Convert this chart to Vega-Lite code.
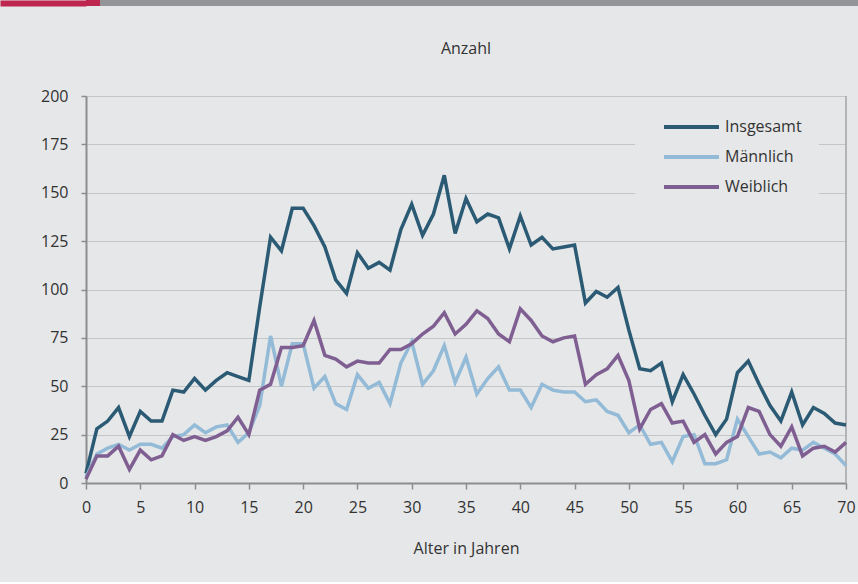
{
  "$schema": "https://vega.github.io/schema/vega-lite/v6.json",
  "background": "#e6e7e8",
  "padding": {"left": 0, "top": 0, "right": 0, "bottom": 26},
  "spacing": 35,
  "config": {
    "view": {"stroke": null},
    "font": "Open Sans",
    "concat": {"spacing": 0}
  },
  "vconcat": [
    {
      "spacing": 0,
      "bounds": "flush",
      "hconcat": [
        {"width": 14, "height": 6, "data": {"values": [{}]}, "mark": {"type": "rect", "color": "#be2650"},
         "encoding": {
           "x": {"value": 0}, "x2": {"value": "width"},
           "y": {"datum": 0, "type": "quantitative", "scale": {"domain": [0, 1]},
                 "axis": {"title": null, "labels": false, "ticks": false, "grid": false, "domainColor": "#be2650", "domainWidth": 86, "domainCap": "butt", "offset": 43}},
           "y2": {"datum": 1}
         }},
        {"width": 758, "height": 6, "data": {"values": [{}]}, "mark": {"type": "rect", "color": "#939598"},
         "encoding": {"x": {"value": 0}, "x2": {"value": "width"}, "y": {"value": 0}, "y2": {"value": "height"}}}
      ]
    },
    {
      "width": 760,
      "height": 387,
      "title": {"text": "Anzahl", "anchor": "middle", "fontSize": 16, "fontWeight": "normal", "color": "#333333", "offset": 31, "font": "Open Sans"},
      "data": {
        "values": [
          {"Alter": 0, "Insgesamt": 5, "Männlich": 3, "Weiblich": 2},
          {"Alter": 1, "Insgesamt": 28, "Männlich": 15, "Weiblich": 14},
          {"Alter": 2, "Insgesamt": 32, "Männlich": 18, "Weiblich": 14},
          {"Alter": 3, "Insgesamt": 39, "Männlich": 20, "Weiblich": 19},
          {"Alter": 4, "Insgesamt": 24, "Männlich": 17, "Weiblich": 7},
          {"Alter": 5, "Insgesamt": 37, "Männlich": 20, "Weiblich": 17},
          {"Alter": 6, "Insgesamt": 32, "Männlich": 20, "Weiblich": 12},
          {"Alter": 7, "Insgesamt": 32, "Männlich": 18, "Weiblich": 14},
          {"Alter": 8, "Insgesamt": 48, "Männlich": 24, "Weiblich": 25},
          {"Alter": 9, "Insgesamt": 47, "Männlich": 25, "Weiblich": 22},
          {"Alter": 10, "Insgesamt": 54, "Männlich": 30, "Weiblich": 24},
          {"Alter": 11, "Insgesamt": 48, "Männlich": 26, "Weiblich": 22},
          {"Alter": 12, "Insgesamt": 53, "Männlich": 29, "Weiblich": 24},
          {"Alter": 13, "Insgesamt": 57, "Männlich": 30, "Weiblich": 27},
          {"Alter": 14, "Insgesamt": 55, "Männlich": 21, "Weiblich": 34},
          {"Alter": 15, "Insgesamt": 53, "Männlich": 26, "Weiblich": 25},
          {"Alter": 16, "Insgesamt": 91, "Männlich": 40, "Weiblich": 48},
          {"Alter": 17, "Insgesamt": 127, "Männlich": 76, "Weiblich": 51},
          {"Alter": 18, "Insgesamt": 120, "Männlich": 50, "Weiblich": 70},
          {"Alter": 19, "Insgesamt": 142, "Männlich": 72, "Weiblich": 70},
          {"Alter": 20, "Insgesamt": 142, "Männlich": 72, "Weiblich": 71},
          {"Alter": 21, "Insgesamt": 133, "Männlich": 49, "Weiblich": 84},
          {"Alter": 22, "Insgesamt": 122, "Männlich": 55, "Weiblich": 66},
          {"Alter": 23, "Insgesamt": 105, "Männlich": 41, "Weiblich": 64},
          {"Alter": 24, "Insgesamt": 98, "Männlich": 38, "Weiblich": 60},
          {"Alter": 25, "Insgesamt": 119, "Männlich": 56, "Weiblich": 63},
          {"Alter": 26, "Insgesamt": 111, "Männlich": 49, "Weiblich": 62},
          {"Alter": 27, "Insgesamt": 114, "Männlich": 52, "Weiblich": 62},
          {"Alter": 28, "Insgesamt": 110, "Männlich": 41, "Weiblich": 69},
          {"Alter": 29, "Insgesamt": 131, "Männlich": 62, "Weiblich": 69},
          {"Alter": 30, "Insgesamt": 144, "Männlich": 73, "Weiblich": 72},
          {"Alter": 31, "Insgesamt": 128, "Männlich": 51, "Weiblich": 77},
          {"Alter": 32, "Insgesamt": 139, "Männlich": 58, "Weiblich": 81},
          {"Alter": 33, "Insgesamt": 159, "Männlich": 71, "Weiblich": 88},
          {"Alter": 34, "Insgesamt": 129, "Männlich": 52, "Weiblich": 77},
          {"Alter": 35, "Insgesamt": 147, "Männlich": 65, "Weiblich": 82},
          {"Alter": 36, "Insgesamt": 135, "Männlich": 46, "Weiblich": 89},
          {"Alter": 37, "Insgesamt": 139, "Männlich": 54, "Weiblich": 85},
          {"Alter": 38, "Insgesamt": 137, "Männlich": 60, "Weiblich": 77},
          {"Alter": 39, "Insgesamt": 121, "Männlich": 48, "Weiblich": 73},
          {"Alter": 40, "Insgesamt": 138, "Männlich": 48, "Weiblich": 90},
          {"Alter": 41, "Insgesamt": 123, "Männlich": 39, "Weiblich": 84},
          {"Alter": 42, "Insgesamt": 127, "Männlich": 51, "Weiblich": 76},
          {"Alter": 43, "Insgesamt": 121, "Männlich": 48, "Weiblich": 73},
          {"Alter": 44, "Insgesamt": 122, "Männlich": 47, "Weiblich": 75},
          {"Alter": 45, "Insgesamt": 123, "Männlich": 47, "Weiblich": 76},
          {"Alter": 46, "Insgesamt": 93, "Männlich": 42, "Weiblich": 51},
          {"Alter": 47, "Insgesamt": 99, "Männlich": 43, "Weiblich": 56},
          {"Alter": 48, "Insgesamt": 96, "Männlich": 37, "Weiblich": 59},
          {"Alter": 49, "Insgesamt": 101, "Männlich": 35, "Weiblich": 66},
          {"Alter": 50, "Insgesamt": 79, "Männlich": 26, "Weiblich": 53},
          {"Alter": 51, "Insgesamt": 59, "Männlich": 30, "Weiblich": 28},
          {"Alter": 52, "Insgesamt": 58, "Männlich": 20, "Weiblich": 38},
          {"Alter": 53, "Insgesamt": 62, "Männlich": 21, "Weiblich": 41},
          {"Alter": 54, "Insgesamt": 42, "Männlich": 11, "Weiblich": 31},
          {"Alter": 55, "Insgesamt": 56, "Männlich": 24, "Weiblich": 32},
          {"Alter": 56, "Insgesamt": 46, "Männlich": 25, "Weiblich": 21},
          {"Alter": 57, "Insgesamt": 35, "Männlich": 10, "Weiblich": 25},
          {"Alter": 58, "Insgesamt": 25, "Männlich": 10, "Weiblich": 15},
          {"Alter": 59, "Insgesamt": 33, "Männlich": 12, "Weiblich": 21},
          {"Alter": 60, "Insgesamt": 57, "Männlich": 33, "Weiblich": 24},
          {"Alter": 61, "Insgesamt": 63, "Männlich": 24, "Weiblich": 39},
          {"Alter": 62, "Insgesamt": 51, "Männlich": 15, "Weiblich": 37},
          {"Alter": 63, "Insgesamt": 40, "Männlich": 16, "Weiblich": 25},
          {"Alter": 64, "Insgesamt": 32, "Männlich": 13, "Weiblich": 19},
          {"Alter": 65, "Insgesamt": 47, "Männlich": 18, "Weiblich": 29},
          {"Alter": 66, "Insgesamt": 30, "Männlich": 17, "Weiblich": 14},
          {"Alter": 67, "Insgesamt": 39, "Männlich": 21, "Weiblich": 18},
          {"Alter": 68, "Insgesamt": 36, "Männlich": 18, "Weiblich": 19},
          {"Alter": 69, "Insgesamt": 31, "Männlich": 15, "Weiblich": 16},
          {"Alter": 70, "Insgesamt": 30, "Männlich": 9, "Weiblich": 21}
        ]
      },
      "layer": [
        {
          "mark": {"type": "rule", "color": "#b4b5b7", "strokeWidth": 1.5},
          "encoding": {"x": {"datum": 70, "type": "quantitative", "scale": {"domain": [0, 70]}}}
        },
        {
          "transform": [{"fold": ["Insgesamt", "Männlich", "Weiblich"], "as": ["Reihe", "Anzahl"]}],
          "mark": {"type": "line", "strokeWidth": 3.5, "strokeJoin": "miter"},
          "encoding": {
            "x": {
              "field": "Alter", "type": "quantitative",
              "scale": {"domain": [0, 70], "nice": false},
              "axis": {
                "title": "Alter in Jahren", "titleFontSize": 16, "titleFontWeight": "normal", "titleColor": "#333333", "titlePadding": 25,
                "values": [0,5,10,15,20,25,30,35,40,45,50,55,60,65,70],
                "labelFontSize": 16, "labelColor": "#333333", "labelPadding": 10,
                "grid": false, "domainColor": "#8c8d8f", "domainWidth": 2,
                "tickColor": "#8c8d8f", "tickSize": 6, "tickWidth": 1.5, "labelFlush": false
              }
            },
            "y": {
              "field": "Anzahl", "type": "quantitative",
              "scale": {"domain": [0, 200], "nice": false},
              "axis": {
                "title": null,
                "values": [0,25,50,75,100,125,150,175,200],
                "labelFontSize": 16, "labelColor": "#333333", "labelPadding": 13,
                "grid": true, "gridColor": "#c4c5c7", "gridWidth": 1,
                "domainColor": "#8c8d8f", "domainWidth": 2,
                "tickColor": "#8c8d8f", "tickSize": 5, "tickWidth": 1.5,
                "minExtent": 86
              }
            },
            "color": {
              "field": "Reihe", "type": "nominal",
              "scale": {"domain": ["Insgesamt", "Männlich", "Weiblich"], "range": ["#2b5a74", "#93bad6", "#7f5f92"]},
              "legend": {
                "title": null, "orient": "none", "legendX": 549, "legendY": 98,
                "fillColor": "#e6e7e8", "padding": 17,
                "symbolType": "M0,0H5.5", "symbolStrokeWidth": 4, "symbolSize": 400,
                "labelFontSize": 16, "labelColor": "#333333", "labelOffset": 49,
                "rowPadding": 10
              }
            }
          }
        }
      ]
    }
  ]
}
